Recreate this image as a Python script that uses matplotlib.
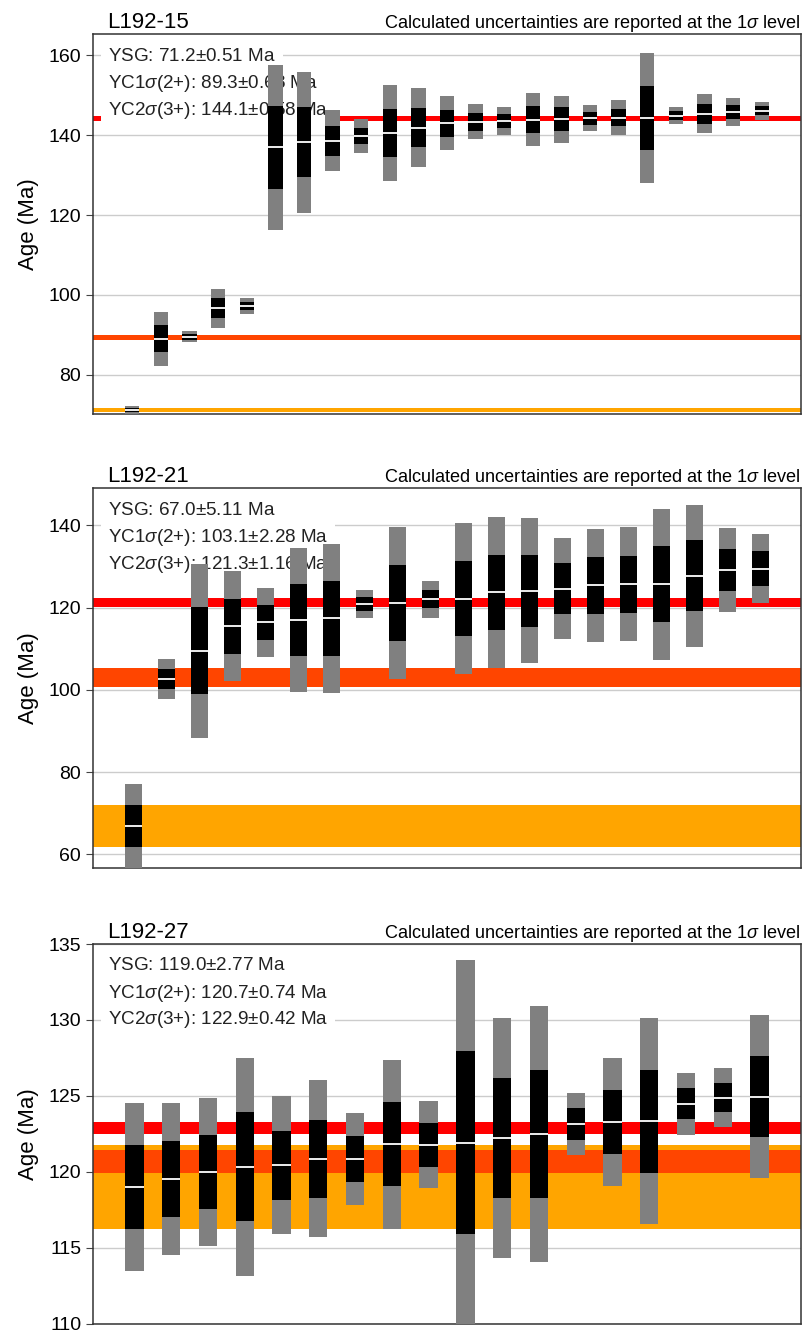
import matplotlib
matplotlib.use("Agg")
import matplotlib.pyplot as plt
import numpy as np

plt.rcParams['font.family'] = ['Liberation Sans', 'DejaVu Sans']
plt.rcParams['mathtext.fontset'] = 'custom'
plt.rcParams['mathtext.rm'] = 'Liberation Sans'
plt.rcParams['mathtext.it'] = 'Liberation Sans:italic'

samples = ["L192-15", "L192-21", "L192-27"]

# grain ages (Ma) and 1 sigma, sorted youngest first
ages_15 = [71.2, 89.0, 89.5, 96.7, 97.2, 136.9, 138.2, 138.6, 139.8, 140.6, 141.9, 143.0,
           143.3, 143.6, 143.9, 144.0, 144.2, 144.4, 144.3, 144.9, 145.3, 145.8, 146.1]
sig_15 = [0.51, 3.35, 0.68, 2.45, 1.0, 10.3, 8.8, 3.8, 2.1, 6.0, 4.9, 3.4,
          2.2, 1.75, 3.35, 2.95, 1.65, 2.15, 8.1, 1.1, 2.45, 1.8, 1.1]

ages_21 = [67.0, 102.6, 109.5, 115.5, 116.4, 117.0, 117.4, 121.0, 121.05, 122.0,
           122.2, 123.7, 124.1, 124.6, 125.4, 125.7, 125.7, 127.75, 129.2, 129.5]
sig_21 = [5.11, 2.4, 10.6, 6.7, 4.2, 8.7, 9.05, 1.7, 9.25, 2.2,
          9.2, 9.2, 8.8, 6.15, 6.9, 6.95, 9.2, 8.6, 5.1, 4.2]

ages_27 = [119.0, 119.55, 120.0, 120.35, 120.45, 120.87, 120.87, 121.84, 121.8, 121.93,
           122.25, 122.5, 123.16, 123.27, 123.33, 124.5, 124.9, 124.95]
sig_27 = [2.77, 2.5, 2.45, 3.58, 2.27, 2.58, 1.52, 2.78, 1.44, 6.0,
          3.95, 4.22, 1.03, 2.1, 3.39, 1.02, 0.98, 2.68]

ysg_age = [71.2, 67.0, 119.0]
ysg_err = [0.51, 5.11, 2.77]
yc1_age = [89.3, 103.1, 120.7]
yc1_err = [0.68, 2.28, 0.74]
yc2_age = [144.1, 121.3, 122.9]
yc2_err = [0.58, 1.16, 0.42]

ylims = [(70.2, 165.3), (56.7, 149.1), (110, 135)]

all_ages = [ages_15, ages_21, ages_27]
all_sig = [sig_15, sig_21, sig_27]

fig = plt.figure(figsize=(8.04, 13.35), dpi=100)
bottoms = [1 - 414/1335, 1 - 868/1335, 1 - 1324/1335]
h = 380/1335

for i in range(3):
    ax = fig.add_axes([93/804, bottoms[i], 708/804, h])
    a = np.array(all_ages[i])
    s = np.array(all_sig[i])
    x = np.arange(len(a))

    ax.axhspan(ysg_age[i] - ysg_err[i], ysg_age[i] + ysg_err[i], color='orange', lw=0, zorder=1)
    ax.axhspan(yc1_age[i] - yc1_err[i], yc1_age[i] + yc1_err[i], color='orangered', lw=0, zorder=1.1)
    ax.axhspan(yc2_age[i] - yc2_err[i], yc2_age[i] + yc2_err[i], color='red', lw=0, zorder=1.2)

    ax.bar(x, 4*s, bottom=a - 2*s, width=0.5, color='gray', zorder=3)
    ax.bar(x, 2*s, bottom=a - s, width=0.5, color='black', zorder=3.1)
    ax.hlines(a, x - 0.25, x + 0.25, color='white', lw=1.3, zorder=3.2)

    ax.set_ylim(*ylims[i])
    ax.set_xticks([])
    ax.grid(axis='y', color='#cccccc', lw=1)
    ax.set_axisbelow(True)
    ax.tick_params(axis='y', labelsize=14, length=5, color='#444444')
    for sp in ax.spines.values():
        sp.set_color('#333333')
        sp.set_linewidth(1.1)
    ax.set_ylabel('Age (Ma)', fontsize=16, labelpad=7)

    ax.text(0.02, 1.016, samples[i], transform=ax.transAxes, fontsize=16, va='baseline', ha='left')
    ax.set_title(r'Calculated uncertainties are reported at the 1$\sigma$ level',
                 loc='right', fontsize=13.1, pad=4)

    lines = [f"YSG: {ysg_age[i]:.1f}$\\pm${ysg_err[i]:.2f} Ma",
             f"YC1$\\sigma$(2+): {yc1_age[i]:.1f}$\\pm${yc1_err[i]:.2f} Ma",
             f"YC2$\\sigma$(3+): {yc2_age[i]:.1f}$\\pm${yc2_err[i]:.2f} Ma"]
    for k, line in enumerate(lines):
        ax.annotate(line, xy=(0, 1), xycoords='axes fraction', xytext=(15, -22 - 27*k),
                    textcoords='offset pixels', fontsize=13.6, va='center', ha='left',
                    color='#222222', zorder=2,
                    bbox=dict(facecolor='white', edgecolor='none', pad=5))

fig.savefig('out.png', dpi=100)
